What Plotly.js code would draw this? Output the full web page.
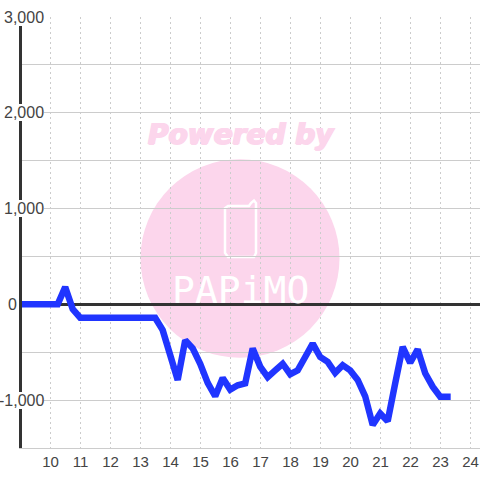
<!DOCTYPE html>
<html>
<head>
<meta charset="utf-8">
<script src="https://cdn.plot.ly/plotly-3.0.1.min.js"></script>
<style>html,body{margin:0;padding:0;background:#fff}</style>
</head>
<body>
<div id="chart" style="width:480px;height:480px"></div>
<script>
const hours = [8.9,9,9.24,9.49,9.74,9.99,10.24,10.49,10.74,10.99,11.24,11.49,11.74,11.99,12.24,12.49,12.74,12.99,13.24,13.49,13.74,13.99,14.24,14.49,14.74,14.99,15.24,15.49,15.74,15.99,16.24,16.49,16.74,16.99,17.24,17.49,17.74,17.99,18.24,18.49,18.74,18.99,19.24,19.49,19.74,19.99,20.24,20.49,20.74,20.99,21.24,21.49,21.74,21.99,22.24,22.49,22.74,22.99,23.34];
const values = [0,0,0,0,0,0,0,180,-50,-140,-140,-140,-140,-140,-140,-140,-140,-140,-140,-140,-270,-530,-790,-375,-460,-620,-820,-960,-770,-890,-845,-825,-460,-650,-760,-690,-620,-730,-690,-550,-410,-550,-600,-715,-635,-690,-790,-960,-1260,-1140,-1220,-825,-445,-610,-470,-720,-860,-965,-965];
const xTicks = [10,11,12,13,14,15,16,17,18,19,20,21,22,23,24];
const yGrid = [-1500,-1000,-500,0,500,1000,1500,2000,2500,3000];
const yTickVals = [3000,2000,1000,0,-1000];
const yTickText = ['3,000','2,000','1,000','0','-1,000'];
const yTickRight = [44,44,44,16.5,44];

const W = 480, H = 480;
const L = 22, T = 16.5, B = 448.5;
const pap = (x, y) => [(x - L) / (W - L), (B - y) / (B - T)];
const C = [240, 258.5, 99.5];
const c0 = pap(C[0] - C[2], C[1] + C[2]), c1 = pap(C[0] + C[2], C[1] - C[2]);
const phone = (() => {
  const P = (x, y) => { const p = pap(x, y); return p[0] + ',' + p[1]; };
  return 'M' + P(228, 206) + ' L' + P(249, 206) + ' L' + P(251, 203) + ' L' + P(254, 200.5) +
         ' L' + P(256, 203) + ' L' + P(256, 253) + ' L' + P(254, 257) + ' L' + P(228, 257) +
         ' L' + P(225, 253) + ' L' + P(225, 208) + ' Z';
})();

const annotations = yTickVals.map((v, i) => ({
  xref: 'paper', yref: 'y', x: (yTickRight[i] - L) / (W - L), y: v,
  xanchor: 'right', yanchor: 'middle', text: yTickText[i], showarrow: false,
  bgcolor: '#ffffff', borderpad: 0, borderwidth: 0,
  font: {family: 'Liberation Sans, Arial, sans-serif', size: 16, color: '#444444'}
}));
annotations.push({
  xref: 'paper', yref: 'paper', x: (241.5 - L) / (W - L), y: (B - 134) / (B - T),
  xanchor: 'center', yanchor: 'middle', text: '<b><i>Powered by</i></b>', showarrow: false,
  font: {family: 'DejaVu Sans, sans-serif', size: 28, color: '#fcd6ec',
         shadow: '1px 0 0 #fcd6ec, -1px 0 0 #fcd6ec, 0 1px 0 #fcd6ec'}
});
annotations.push({
  xref: 'paper', yref: 'paper', x: (240 - L) / (W - L), y: (B - 290) / (B - T),
  xanchor: 'center', yanchor: 'middle', text: 'PAPiMO', showarrow: false,
  font: {family: 'DejaVu Sans Mono, monospace', size: 38, color: '#ffffff'}
});

const trace = {
  x: hours, y: values, type: 'scatter', mode: 'lines', cliponaxis: false,
  line: {color: '#2035ff', width: 6.5, shape: 'linear'}, hoverinfo: 'skip'
};

const layout = {
  width: W, height: H,
  margin: {l: L, r: 0, t: T, b: H - B, pad: 0},
  paper_bgcolor: '#ffffff', plot_bgcolor: '#ffffff',
  showlegend: false,
  xaxis: {
    range: [9.05, 24.317], tickmode: 'array', tickvals: xTicks, ticktext: xTicks.map(String),
    showgrid: true, gridcolor: '#cccccc', gridwidth: 1, griddash: '2px,3px',
    zeroline: false, showline: true, linecolor: '#cccccc', linewidth: 1, ticks: '',
    tickfont: {family: 'Liberation Sans, Arial, sans-serif', size: 15, color: '#444444'}
  },
  yaxis: {
    range: [-1500, 3000], tickmode: 'array', tickvals: yGrid,
    showticklabels: false, showgrid: true, gridcolor: '#cccccc', gridwidth: 1,
    zeroline: true, zerolinecolor: '#333333', zerolinewidth: 3, layer: 'below traces',
    showline: true, linecolor: '#333333', linewidth: 3, ticks: ''
  },
  shapes: [
    {type: 'circle', xref: 'paper', yref: 'paper', layer: 'below',
     x0: c0[0], y0: c0[1], x1: c1[0], y1: c1[1],
     fillcolor: '#fcd6ec', line: {width: 0}},
    {type: 'path', xref: 'paper', yref: 'paper', layer: 'below', path: phone,
     fillcolor: 'rgba(0,0,0,0)', line: {color: '#ffffff', width: 2.5}}
  ],
  annotations: annotations
};

Plotly.newPlot('chart', [trace], layout, {displayModeBar: false, staticPlot: true});
</script>
</body>
</html>
